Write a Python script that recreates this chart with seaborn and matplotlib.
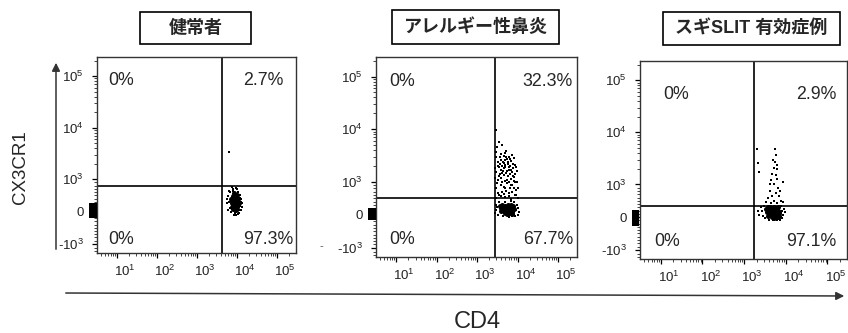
import numpy as np
import pandas as pd
import seaborn as sns
import matplotlib.pyplot as plt
from matplotlib import ticker, transforms
from matplotlib.patches import Rectangle, FancyArrowPatch

sns.set_style('ticks')
plt.rcParams['font.family'] = ['Liberation Sans', 'Noto Sans CJK JP', 'DejaVu Sans']
plt.rcParams['mathtext.fontset'] = 'custom'
plt.rcParams['mathtext.rm'] = 'Liberation Sans'

# panel titles and quadrant percentages (TL, TR, BL, BR)
titles = ['健常者', 'アレルギー性鼻炎', 'スギSLIT 有効症例']
quad_1 = ['0%', '2.7%', '0%', '97.3%']
quad_2 = ['0%', '32.3%', '0%', '67.7%']
quad_3 = ['0%', '2.9%', '0%', '97.1%']

# gates (CD4, CX3CR1)
gate_1 = (4300, 800)
gate_2 = (2750, 500)
gate_3 = (1740, 350)

# events: (CD4, CX3CR1)
p1_core = [(8200, 300), (8700, 250), (9200, 350), (7700, 200), (9700, 280), (8500, 420), (8900, 150),
           (7500, 330), (10200, 220), (9400, 450), (7900, 380), (9100, 100), (8300, 180), (9900, 380),
           (7300, 260), (9600, 160), (8800, 520), (8100, 90), (10500, 320), (8600, 300), (9300, 240),
           (7800, 470), (10100, 140), (7600, 140), (9000, 380), (10900, 250), (8400, 560), (9500, 60),
           (7000, 380), (9800, 500)]
p1_loose = [(6300, 300), (6500, 120), (11500, 180), (12300, 300), (13000, 150), (6700, 600), (10300, 620),
            (8000, 700), (8700, -50), (9500, -120), (11200, 40), (11700, 430), (7000, -20), (10600, -80),
            (12700, 380), (6000, 480), (7700, 650), (9200, 740), (10700, 600), (8300, -100), (5700, 250),
            (5900, 60), (6100, 650), (12000, 520), (13500, 250), (11000, -40), (7400, 760), (10000, 700),
            (5600, 400), (12500, 60), (6300, 3400)]

p2_core = [(4000, 200), (4500, 130), (5000, 250), (5500, 170), (6000, 110), (6500, 230), (7000, 150),
           (7500, 80), (4200, 300), (4800, 40), (5200, 100), (5800, 280), (6300, 50), (6800, 290),
           (7300, 210), (3800, 110), (8000, 170), (4400, 230), (5600, 30), (6600, 140), (3600, 250),
           (7800, 260), (5100, 180), (6100, 210), (4700, 150), (7100, 20)]
p2_loose = [(3000, 150), (3200, 0), (2900, 300), (9000, 130), (10000, 200), (11000, 80), (8500, -30),
            (9500, 300), (3400, 380), (5000, 400), (6800, 420), (8200, 380), (4300, -50), (6000, -60),
            (7500, -40), (10500, 0), (3100, 230), (2800, 60),
            (3000, 520), (3500, 600), (4200, 700), (5000, 550), (6000, 650), (7000, 480), (8500, 600),
            (10000, 520), (2900, 800), (3800, 900), (4500, 850), (5500, 950), (6500, 800), (7500, 900),
            (9000, 750), (3200, 1100), (4000, 1200), (4800, 1050), (5800, 1300), (7000, 1150), (8000, 1250),
            (9500, 1000), (3000, 1500), (3700, 1400), (4400, 1600), (5200, 1450), (6200, 1700), (7200, 1550),
            (8800, 1400), (2800, 1800), (3500, 1900), (4200, 2000), (5000, 2100), (6000, 1900), (7800, 2200),
            (9200, 1900), (3300, 2400), (4000, 2600), (4700, 2300), (5600, 2700), (6800, 2500), (3000, 2900),
            (4500, 3100), (6200, 3000), (3800, 3400), (7500, 3200), (2900, 3600), (5200, 3800), (3100, 4500),
            (4200, 5000), (3400, 5600), (2900, 9500), (4800, 3500), (8000, 2800), (9800, 1600), (10500, 800),
            (2800, 1200), (6600, 2000), (5400, 1100), (4100, 1450), (3600, 2200), (7600, 1800), (8500, 1000),
            (5900, 2400), (4600, 1800),
            (3300, 650), (3900, 560), (4600, 620), (5300, 720), (6300, 560), (7300, 700), (8200, 820),
            (9300, 600), (3100, 950), (4100, 1000), (5000, 800), (6000, 1000), (6900, 900), (8100, 1050),
            (3400, 1300), (4500, 1350), (5500, 1600), (6500, 1400), (7600, 1300), (3900, 1700), (4800, 1900),
            (5800, 2200), (7000, 1700), (3200, 2000), (4400, 2400), (5300, 2900), (6500, 2700), (3600, 3000),
            (4900, 2600), (8700, 2100)]

p3_core = [(3500, 150), (4000, 220), (4500, 80), (5000, 180), (5500, 250), (6000, 100), (6500, 200),
           (6800, 50), (3800, 40), (4200, 300), (4800, 0), (5200, 310), (5800, 20), (6300, 280),
           (6700, 160), (6000, 230), (3300, 240), (4600, 160), (5400, 70), (6100, 190), (4400, 280),
           (5700, 140), (6500, 300), (3700, 310), (6600, -10), (5100, -20), (7000, 120), (4100, 90)]
p3_loose = [(2700, 200), (2900, 50), (3000, 330), (8000, 180), (8600, 70), (9000, 250), (7600, 330),
            (8000, -20), (3200, -40), (4000, -80), (6000, -90), (7000, -60), (2600, 300), (9500, 160),
            (2200, 200), (2300, 80), (5000, -100), (7300, -90),
            (2050, 4900), (5500, 4900), (5800, 3600), (5000, 2900), (5400, 2700), (5100, 2100), (6000, 2000),
            (4800, 1600), (5700, 1500), (6300, 1300), (4500, 1200), (5300, 1000), (6600, 900), (4200, 800),
            (5800, 750), (7000, 650), (3800, 600), (5100, 500), (7800, 500), (3400, 450), (6200, 430),
            (8500, 450), (4400, 420), (8500, 1100), (2300, 1700), (2200, 2600), (6100, 2400), (4100, 1000),
            (4600, 650), (7200, 800)]

# events piled on the CD4 floor
floor_cd4 = [2.3, 2.75]
floor_1 = [-150, -100, -50, 0, 50, 100, 150, 200]
floor_2 = [-100, -50, 0, 50, 100, 150]
floor_3 = [-200, -150, -100, -50, 0, 50, 100, 150]

ytick_vals = [-1000, 0, 1000, 1e4, 1e5]
ytick_labels = [r'-$\mathregular{10^{3}}$', '0', r'$\mathregular{10^{3}}$',
                r'$\mathregular{10^{4}}$', r'$\mathregular{10^{5}}$']
xtick_vals = [10, 100, 1e3, 1e4, 1e5]
xtick_labels = [r'$\mathregular{10^{%d}}$' % k for k in range(1, 6)]

W, H = 848, 333
fig = plt.figure(figsize=(W / 100, H / 100), dpi=100)


def px_rect(left, top, right, bottom):
    return [left / W, 1 - bottom / H, (right - left) / W, (bottom - top) / H]


def draw_panel(rect, core, loose, floor_y, gate, quads, qpos):
    ax = fig.add_axes(rect)
    core_df = pd.DataFrame(core, columns=['cd4', 'cx3cr1'])
    loose_df = pd.DataFrame(loose, columns=['cd4', 'cx3cr1'])
    sns.scatterplot(data=loose_df, x='cd4', y='cx3cr1', s=1.6, color='black',
                    linewidth=0, marker='s', ax=ax)
    sns.scatterplot(data=core_df, x='cd4', y='cx3cr1', s=13, color='black',
                    linewidth=0, marker='o', ax=ax)
    for fx in floor_cd4:
        ax.scatter([fx] * len(floor_y), floor_y, s=5, marker='s', color='black',
                   linewidth=0, clip_on=False, zorder=4)
    ax.set_xscale('log')
    ax.set_yscale('symlog', linthresh=1000, linscale=0.565)
    ax.set_xlim(10 ** 0.5, 10 ** 5.47)
    ax.set_ylim(-1500, 2.35e5)
    ax.axvline(gate[0], color='black', lw=1.2)
    ax.axhline(gate[1], color='black', lw=1.2)

    ax.set_xticks(xtick_vals)
    ax.set_xticklabels(xtick_labels)
    ax.set_yticks(ytick_vals)
    ax.set_yticklabels(ytick_labels)
    ax.xaxis.set_minor_locator(ticker.LogLocator(base=10, subs=np.arange(2, 10), numticks=20))
    ax.xaxis.set_minor_formatter(ticker.NullFormatter())
    yminor = [k * 100 for k in range(-9, 10) if k != 0]
    yminor += [k * 10 ** e for e in (3, 4) for k in range(2, 10)] + [-1000 * k for k in (1.2, 1.4)] + [2e5]
    ax.yaxis.set_minor_locator(ticker.FixedLocator(yminor))
    ax.yaxis.set_minor_formatter(ticker.NullFormatter())
    ax.tick_params(which='major', direction='out', length=3.5, width=0.9, labelsize=9.5,
                   colors='black', labelcolor='#222222')
    ax.tick_params(which='minor', direction='out', length=2, width=0.6)
    ax.tick_params(axis='x', which='major', pad=4)
    ax.tick_params(axis='y', which='major', pad=6)
    shift = transforms.ScaledTranslation(-2 / 72, 0, fig.dpi_scale_trans)
    for lab in ax.get_xticklabels():
        lab.set_ha('left')
        lab.set_transform(lab.get_transform() + shift)
    for sp in ax.spines.values():
        sp.set_visible(True)
        sp.set_linewidth(1)
        sp.set_color('#333333')
    ax.set_xlabel('')
    ax.set_ylabel('')
    for txt, (qx, qy, ha) in zip(quads, qpos):
        ax.text(qx, qy, txt, transform=ax.transAxes, ha=ha, va='center', fontsize=12.8)
    return ax


draw_panel(px_rect(97, 57, 296, 253), p1_core, p1_loose, floor_1, gate_1, quad_1,
           [(0.055, 0.878, 'left'), (0.935, 0.878, 'right'), (0.055, 0.071, 'left'), (0.985, 0.071, 'right')])
draw_panel(px_rect(376, 57, 577, 257), p2_core, p2_loose, floor_2, gate_2, quad_2,
           [(0.065, 0.88, 'left'), (0.98, 0.88, 'right'), (0.065, 0.09, 'left'), (0.98, 0.09, 'right')])
draw_panel(px_rect(640, 61, 847, 259), p3_core, p3_loose, floor_3, gate_3, quad_3,
           [(0.11, 0.833, 'left'), (0.95, 0.833, 'right'), (0.068, 0.086, 'left'), (0.95, 0.086, 'right')])

# title boxes
boxes = [(140, 12, 251, 44), (392, 10, 559, 44), (663, 12, 840, 45)]
for (l, t, r, b), title in zip(boxes, titles):
    fig.add_artist(Rectangle((l / W, 1 - b / H), (r - l) / W, (b - t) / H, transform=fig.transFigure,
                             fill=False, edgecolor='black', lw=1.2))
    fig.text((l + r) / 2 / W, 1 - (t + b) / 2 / H, title, ha='center', va='center',
             fontsize=13, fontweight='bold')

# axis arrows and labels
fig.add_artist(FancyArrowPatch((56 / W, 1 - 252 / H), (56 / W, 1 - 60 / H), transform=fig.transFigure,
                               arrowstyle='-|>', mutation_scale=12, color='#333333', lw=1.1))
fig.add_artist(FancyArrowPatch((63 / W, 1 - 293 / H), (847 / W, 1 - 296 / H), transform=fig.transFigure,
                               arrowstyle='-|>', mutation_scale=12, color='#333333', lw=1.1))
fig.text(21 / W, 1 - 167 / H, 'CX3CR1', rotation=90, ha='center', va='center', fontsize=13.5)
fig.text(477 / W, 1 - 322 / H, 'CD4', ha='center', va='center', fontsize=17)
fig.text(321 / W, 1 - 246 / H, '-', ha='center', va='center', fontsize=8, color='#555555')

fig.savefig('out.png', dpi=100)
